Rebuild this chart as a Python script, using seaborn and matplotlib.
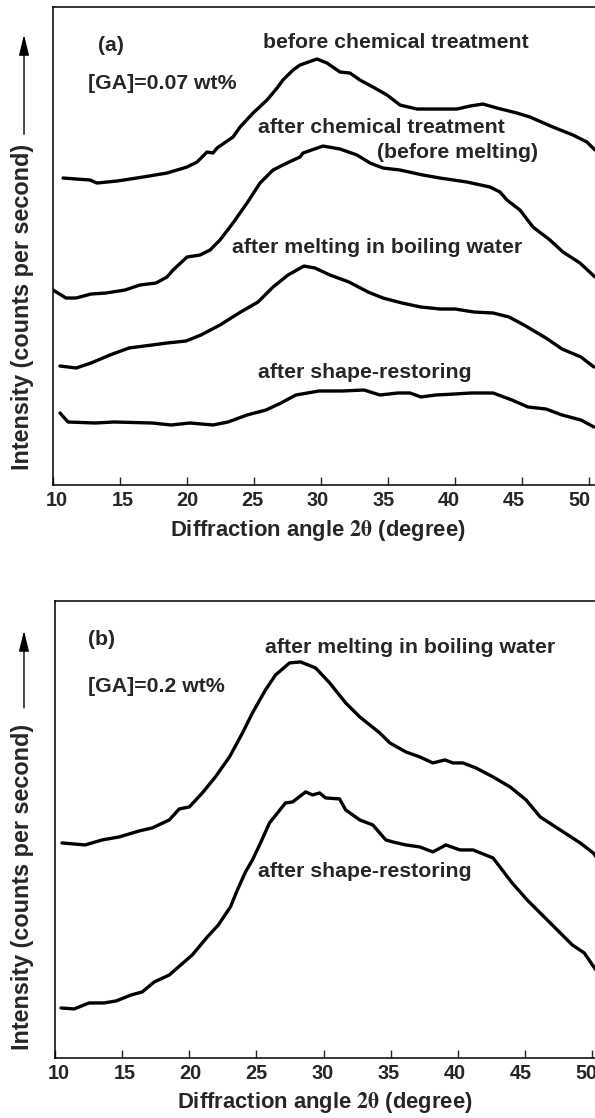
"""
X-ray diffraction profiles of the gel, two GA concentrations.
"""

import matplotlib
from matplotlib import pyplot as plt
from matplotlib.transforms import ScaledTranslation
import seaborn as sns
import pandas as pd

matplotlib.use('Agg')

sns.set_style("white")
plt.rcParams['font.family'] = ['Liberation Sans', 'DejaVu Sans']
plt.rcParams['font.weight'] = 'bold'
plt.rcParams['mathtext.fontset'] = 'stix'

# --- panel (a): [GA]=0.07 wt% (intensity in arbitrary units) ---
a_before_x = [10.75, 12.76, 13.28, 14.78, 16.72, 18.51, 20.0, 20.75, 21.49, 21.94,
              22.24, 23.43, 23.96, 24.93, 25.97, 26.72, 27.16, 27.91, 28.43, 29.70,
              30.45, 31.42, 32.16, 32.91, 33.88, 34.93, 35.90, 37.16, 38.36, 40.15,
              41.12, 42.09, 43.13, 44.63, 45.60, 47.31, 48.81, 49.85, 50.45]
a_before_y = [307, 305, 302, 304, 308, 312, 318, 323, 333, 332,
              337, 348, 358, 372, 385, 397, 405, 415, 420, 426,
              422, 413, 412, 405, 398, 390, 380, 376, 376, 376,
              379, 381, 377, 372, 368, 358, 350, 343, 335]

a_after_x = [10.0, 10.97, 11.72, 12.84, 13.96, 15.37, 16.49, 17.69, 18.51, 18.96,
             20.0, 20.97, 21.72, 22.46, 23.43, 24.48, 25.45, 26.42, 27.46, 28.43,
             28.66, 30.15, 31.42, 32.69, 33.66, 34.63, 35.90, 37.61, 38.88, 40.90,
             42.61, 43.36, 43.88, 44.85, 45.82, 47.09, 48.06, 49.33, 50.45]
a_after_y = [195, 187, 187, 191, 192, 195, 200, 202, 208, 215,
             228, 230, 235, 245, 262, 282, 302, 315, 322, 328,
             332, 339, 336, 330, 322, 317, 315, 310, 307, 303,
             298, 293, 285, 275, 258, 245, 233, 222, 208]

a_melt_x = [10.52, 11.72, 12.84, 14.25, 15.67, 17.39, 18.51, 19.93, 21.04, 22.46,
            23.88, 25.30, 26.42, 27.54, 28.73, 29.55, 30.67, 32.09, 33.51, 34.63,
            36.04, 37.46, 38.88, 40.0, 41.42, 42.84, 44.03, 45.15, 46.79, 47.99,
            49.40, 50.37]
a_melt_y = [119, 117, 122, 130, 137, 140, 142, 144, 150, 160,
            172, 183, 198, 210, 219, 217, 210, 203, 193, 187,
            182, 178, 176, 176, 173, 172, 168, 160, 147, 136,
            128, 118]

a_restore_x = [10.52, 11.12, 13.13, 14.55, 17.39, 18.81, 20.22, 21.94, 23.06, 24.48,
               25.90, 27.01, 28.13, 29.85, 31.57, 33.21, 34.40, 35.75, 36.64, 37.46,
               38.58, 40.0, 41.19, 42.84, 44.25, 45.45, 46.79, 47.99, 49.40, 50.37]
a_restore_y = [72, 63, 62, 63, 62, 60, 62, 60, 63, 70,
               75, 82, 90, 94, 94, 95, 90, 92, 92, 88,
               90, 91, 92, 92, 85, 78, 76, 70, 65, 58]

# --- panel (b): [GA]=0.2 wt% ---
b_melt_x = [10.52, 12.24, 13.51, 14.78, 16.27, 17.24, 18.51, 19.25, 20.0, 20.97,
            21.94, 22.99, 23.96, 24.70, 25.67, 26.42, 27.46, 28.28, 29.40, 30.45,
            31.64, 32.69, 34.18, 34.93, 36.12, 37.16, 38.13, 39.03, 39.63, 40.37,
            41.34, 42.61, 43.88, 45.07, 46.12, 47.61, 49.10, 50.07, 50.45]
b_melt_y = [208, 206, 211, 214, 220, 223, 231, 242, 244, 258,
            274, 294, 318, 338, 361, 376, 388, 389, 383, 368,
            348, 334, 318, 308, 299, 294, 288, 291, 288, 288,
            283, 274, 264, 251, 234, 221, 208, 198, 191]

b_restore_x = [10.45, 11.42, 12.54, 13.66, 14.55, 15.67, 16.49, 17.39, 18.51, 20.22,
               21.34, 22.16, 23.06, 23.58, 24.18, 24.70, 25.30, 25.97, 27.16, 27.69,
               28.66, 29.18, 29.70, 30.15, 31.19, 31.64, 32.69, 33.66, 34.63, 35.15,
               36.12, 37.16, 38.13, 39.10, 40.15, 41.12, 42.61, 44.03, 45.15, 46.27,
               47.39, 48.51, 49.40, 50.37]
b_restore_y = [43, 42, 48, 48, 50, 56, 59, 69, 76, 96,
               114, 126, 144, 161, 179, 191, 208, 228, 248, 249,
               259, 256, 258, 253, 252, 241, 231, 226, 211, 209,
               206, 204, 199, 206, 201, 201, 193, 168, 151, 136,
               121, 106, 98, 79]

ticks = [10, 15, 20, 25, 30, 35, 40, 45, 50]


def long_df(curves: dict) -> pd.DataFrame:
    """Junta las curvas en formato largo para seaborn."""
    partes = []
    for nombre, (xs, ys) in curves.items():
        partes.append(pd.DataFrame({'angle': xs, 'intensity': ys, 'curve': nombre}))
    return pd.concat(partes, ignore_index=True)


df_a = long_df({'before': (a_before_x, a_before_y),
                'after': (a_after_x, a_after_y),
                'melt': (a_melt_x, a_melt_y),
                'restore': (a_restore_x, a_restore_y)})
df_b = long_df({'melt': (b_melt_x, b_melt_y),
                'restore': (b_restore_x, b_restore_y)})

fig = plt.figure(figsize=(5.95, 11.18), dpi=100)
ax_a = fig.add_axes([0.0891, 0.5662, 0.9109, 0.4275])
ax_b = fig.add_axes([0.0924, 0.0537, 0.9076, 0.4088])

fs = 15.3       # anotaciones
fs_tick = 14.3  # números del eje x


def estilo(ax, xmax, ylim, arrow_x, tip, tail, lab_x, lab_y, xl_x, xl_y, drift):
    """Ejes, ticks y etiquetas comunes a los dos paneles."""
    ax.set_xlim(10, xmax)
    ax.set_ylim(*ylim)
    ax.set_xticks(ticks)
    ax.set_xticklabels([str(t) for t in ticks])
    ax.set_yticks([])
    ax.set_xlabel('')
    ax.set_ylabel('')
    ax.tick_params(axis='x', direction='in', length=6, width=1, pad=4,
                   labelsize=fs_tick, bottom=True)
    # en el original los números se van corriendo un poco a la izquierda
    for lab, t in zip(ax.get_xticklabels(), ticks):
        lab.set_fontweight('bold')
        dx = (drift[0] + (drift[1] - drift[0]) * (t - 10) / 40) / 100
        lab.set_transform(lab.get_transform() + ScaledTranslation(dx, 0, fig.dpi_scale_trans))
    for side in ['left', 'bottom', 'top']:
        ax.spines[side].set_color('black')
        ax.spines[side].set_linewidth(1.1)
    ax.spines['right'].set_visible(False)
    # flecha del eje de intensidad
    ax.annotate('', xy=(arrow_x, tip), xytext=(arrow_x, tail),
                xycoords='axes fraction', textcoords='axes fraction',
                arrowprops=dict(arrowstyle='-|>,head_length=0.9,head_width=0.22',
                                color='black', lw=1, mutation_scale=14))
    ax.text(lab_x, lab_y, 'Intensity (counts per second)', transform=ax.transAxes,
            rotation=90, ha='center', va='center', fontsize=16.8, fontweight='bold')
    ax.text(xl_x, xl_y, r'Diffraction angle $\mathrm{2\theta}$ (degree)',
            transform=ax.transAxes, ha='center', va='center', fontsize=15.8,
            fontweight='bold')


# Panel (a)
sns.lineplot(data=df_a, x='angle', y='intensity', units='curve', estimator=None,
             color='black', linewidth=2.4, ax=ax_a)
estilo(ax_a, 50.45, (0, 478), -0.0535, 0.948, 0.728, -0.057, 0.372, 0.489, -0.096,
       (4, -10))
ax_a.text(13.36, 440, '(a)', fontsize=fs, fontweight='bold', va='center')
ax_a.text(12.61, 402, '[GA]=0.07 wt%', fontsize=fs, fontweight='bold', va='center')
ax_a.text(25.67, 443, 'before chemical treatment', fontsize=fs, fontweight='bold', va='center')
ax_a.text(25.30, 358, 'after chemical treatment', fontsize=fs, fontweight='bold', va='center')
ax_a.text(46.2, 333, '(before melting)', fontsize=fs, fontweight='bold', va='center', ha='right')
ax_a.text(23.36, 238, 'after melting in boiling water', fontsize=fs, fontweight='bold', va='center')
ax_a.text(25.30, 113, 'after shape-restoring', fontsize=fs, fontweight='bold', va='center')

# Panel (b)
sns.lineplot(data=df_b, x='angle', y='intensity', units='curve', estimator=None,
             color='black', linewidth=2.4, ax=ax_b)
estilo(ax_b, 50.2, (-7, 450), -0.0574, 0.941, 0.76, -0.061, 0.375, 0.5, -0.098,
       (4, -6))
ax_b.text(12.46, 411, '(b)', fontsize=fs, fontweight='bold', va='center')
ax_b.text(12.46, 364, '[GA]=0.2 wt%', fontsize=fs, fontweight='bold', va='center')
ax_b.text(25.64, 403, 'after melting in boiling water', fontsize=fs, fontweight='bold', va='center')
ax_b.text(25.12, 179, 'after shape-restoring', fontsize=fs, fontweight='bold', va='center')

for ax in (ax_a, ax_b):
    for line in ax.lines:
        line.set_solid_joinstyle('round')
        line.set_solid_capstyle('round')

fig.savefig('out.png', dpi=100)
plt.close(fig)
